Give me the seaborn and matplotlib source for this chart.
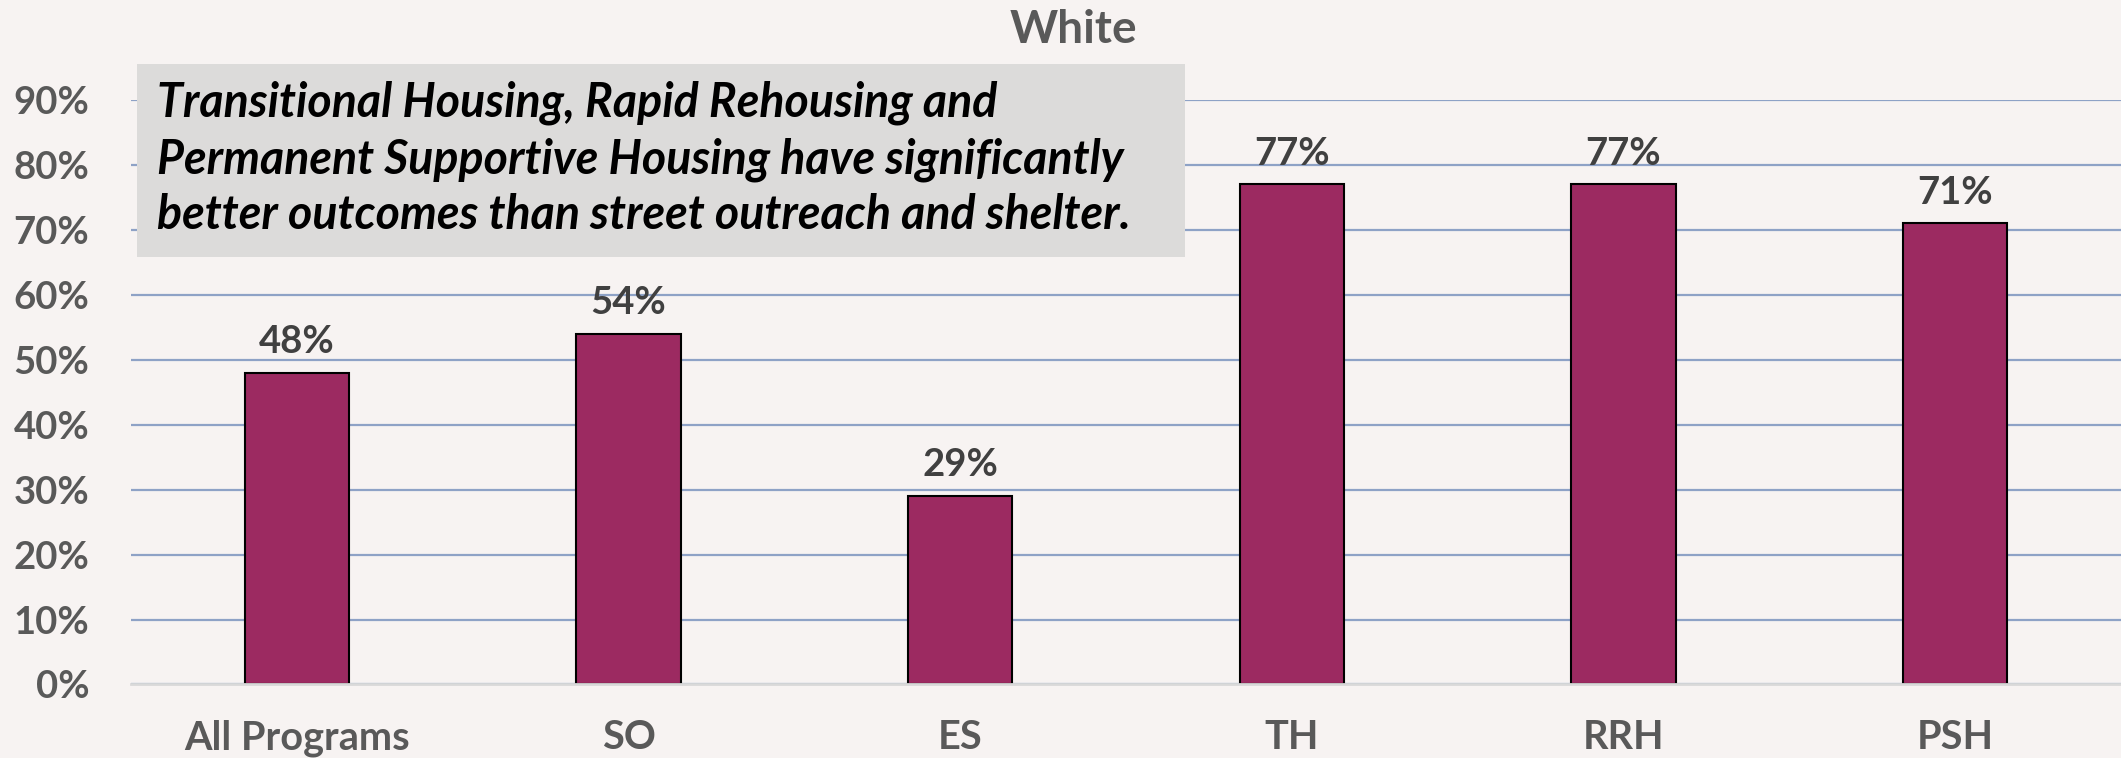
import seaborn as sns
import numpy as np
import pandas as pd
import matplotlib.pyplot as plt
from matplotlib.patches import Rectangle
from matplotlib.ticker import PercentFormatter

# Data
programs = ["All Programs", "SO", "ES", "TH", "RRH", "PSH"]
rates = [0.48, 0.54, 0.29, 0.77, 0.77, 0.71]
yticks = [0, 0.1, 0.2, 0.3, 0.4, 0.5, 0.6, 0.7, 0.8, 0.9]
title = "White"
note = ("Transitional Housing, Rapid Rehousing and\n"
        "Permanent Supportive Housing have significantly\n"
        "better outcomes than street outreach and shelter.")

df = pd.DataFrame({"Program": programs, "Rate": rates})

sns.set_style("white")
plt.rcParams["font.family"] = ["Lato", "DejaVu Sans"]

bg = "#F7F3F2"
fig = plt.figure(figsize=(21.21, 7.58), dpi=100, facecolor=bg)
ax = fig.add_axes([0.0618, 0.097, 0.9382, 0.771])
ax.set_facecolor(bg)

sns.barplot(data=df, x="Program", y="Rate", color="#9C2A61", saturation=1,
            width=0.314, edgecolor="black", linewidth=1.5, ax=ax, zorder=3)

ax.set_ylim(0, 0.9)
ax.set_xlim(-0.5, 5.5)
ax.set_yticks(yticks)
ax.yaxis.set_major_formatter(PercentFormatter(1.0, decimals=0))
ax.grid(axis="y", color="#8EA2C6", linewidth=1.6, zorder=0)
ax.set_axisbelow(True)
for s in ["top", "right", "left"]:
    ax.spines[s].set_visible(False)
ax.spines["bottom"].set_color("#D9D9D9")
ax.spines["bottom"].set_linewidth(2)
ax.spines["bottom"].set_zorder(4)

ax.tick_params(axis="y", length=0, pad=30, labelsize=27.5, labelcolor="#595959")
ax.tick_params(axis="x", length=0, pad=25, labelsize=28.5, labelcolor="#595959")
for lab in ax.get_xticklabels() + ax.get_yticklabels():
    lab.set_fontweight("bold")
ax.set_xlabel("")
ax.set_ylabel("")

ax.bar_label(ax.containers[0], labels=[f"{v:.0%}" for v in rates], padding=10,
             fontsize=27.5, fontweight="bold", color="#404040")

fig.text(0.506, 0.96, title, ha="center", va="center", fontsize=33,
         fontweight="bold", color="#595959")

# note box
fig.patches.append(Rectangle((137 / 2121, 1 - 257 / 758), (1185 - 137) / 2121,
                             (257 - 64) / 758, transform=fig.transFigure,
                             facecolor="#DCDBDA", edgecolor="none", zorder=5))
fig.text(157 / 2121, 1 - 159 / 758, note, ha="left", va="center", fontsize=33.5,
         fontweight="bold", fontstyle="italic", color="black",
         linespacing=1.33, zorder=6)

fig.savefig("out.png", dpi=100, facecolor=bg)
